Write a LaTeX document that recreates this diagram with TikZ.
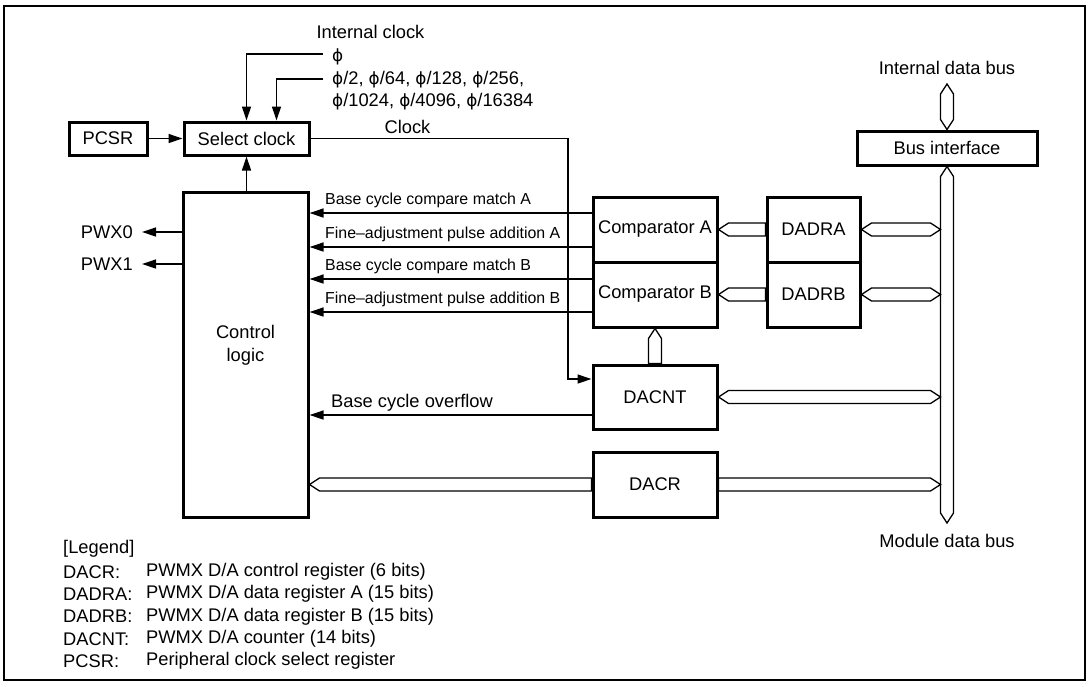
\documentclass[tikz,border=0pt]{standalone}
\usepackage{fontspec}
\setmainfont{Liberation Sans}
\newfontfamily\phifont[Scale=0.92]{DejaVu Sans}
\newcommand\ph{{\phifont ϕ}}
\usetikzlibrary{arrows.meta,calc}
\newcommand\hbusLR[2]{\draw[busline] (#1) -- ($(#1)+(10,6.5)$) -- ($(#2)+(-10,6.5)$) -- (#2) -- ($(#2)+(-10,-6.5)$) -- ($(#1)+(10,-6.5)$) -- cycle;}
\newcommand\hbusL[2]{\draw[busline] (#1) -- ($(#1)+(10,6.5)$) -- ($(#2)+(0,6.5)$) -- ($(#2)+(0,-6.5)$) -- ($(#1)+(10,-6.5)$) -- cycle;}
\newcommand\hbusR[2]{\draw[busline] (#1) -- ($(#1)+(0,6.5)$) -- ($(#2)+(-10,6.5)$) -- (#2) -- ($(#2)+(-10,-6.5)$) -- ($(#1)+(0,-6.5)$) -- cycle;}
\begin{document}
\begin{tikzpicture}[x=1pt,y=-1pt,
  box/.style={draw, line width=3pt, fill=white, inner sep=0pt, font=\fontsize{18.3}{23}\selectfont, align=center},
  arr/.style={line width=1.3pt, -{Triangle[length=14pt,width=9pt]}},
  busline/.style={line width=1.3pt, line join=miter},
  main/.style={inner sep=0pt, font=\fontsize{18.3}{23}\selectfont},
  small/.style={inner sep=0pt, font=\fontsize{15.9}{19}\selectfont}]

\useasboundingbox (0,0) rectangle (1089,686);
\draw[line width=2.6pt] (4,6) rectangle (1085,680);

% boxes
\node[box, minimum width=78pt, minimum height=33pt] (pcsr) at (108,138.5) {PCSR};
\node[box, minimum width=125pt, minimum height=33pt] (selclk) at (246.5,138.5) {Select clock};
\node[box, minimum width=125pt, minimum height=325pt] (ctrl) at (245.5,354.5) {};
\node[main, align=center] (ctrltxt) at (245.5,345) {Control\\logic};
\node[box, minimum width=124pt, minimum height=65pt] (compA) at (655,229.5) {Comparator A};
\node[box, minimum width=124pt, minimum height=65pt] (compB) at (655,294.5) {Comparator B};
\node[box, minimum width=93pt, minimum height=65pt] (dadra) at (813.5,229.5) {DADRA};
\node[box, minimum width=93pt, minimum height=65pt] (dadrb) at (813.5,294.5) {DADRB};
\node[box, minimum width=124pt, minimum height=64pt] (dacnt) at (655,397) {DACNT};
\node[box, minimum width=124pt, minimum height=65pt] (dacr) at (655,484.5) {DACR};
\node[box, minimum width=180pt, minimum height=34pt] (busif) at (947,148) {Bus interface};

% texts
\node[main] (intclk) at (370.5,32) {Internal clock};
\node[main, anchor=west] (phi) at (332,57) {\ph};
\node[main, anchor=west] (phi2) at (332,80) {\ph/2, \ph/64, \ph/128, \ph/256,};
\node[main, anchor=west] (phi3) at (332,102) {\ph/1024, \ph/4096, \ph/16384};
\node[main] (clk) at (407.5,127) {Clock};
\node[main, anchor=east] (pwx0) at (133,232) {PWX0};
\node[main, anchor=east] (pwx1) at (133,264) {PWX1};
\node[small, anchor=west] (l1) at (325,200) {Base cycle compare match A};
\node[small, anchor=west] (l2) at (325,234) {Fine–adjustment pulse addition A};
\node[small, anchor=west] (l3) at (325,266) {Base cycle compare match B};
\node[small, anchor=west] (l4) at (325,299) {Fine–adjustment pulse addition B};
\node[main, anchor=west] (l5) at (331,403) {Base cycle overflow};
\node[main] (idb) at (947,68) {Internal data bus};
\node[main] (mdb) at (947,541) {Module data bus};

% legend
\node[main, anchor=west] (lg) at (63,549) {[Legend]};
\node[main, anchor=west] (lga) at (63,572) {DACR:};
\node[main, anchor=west] (lgb) at (63,594) {DADRA:};
\node[main, anchor=west] (lgc) at (63,616.5) {DADRB:};
\node[main, anchor=west] (lgd) at (63,639) {DACNT:};
\node[main, anchor=west] (lge) at (63,661) {PCSR:};
\node[main, anchor=west] (lgA) at (146,572) {PWMX D/A control register (6 bits)};
\node[main, anchor=west] (lgB) at (146,594) {PWMX D/A data register A (15 bits)};
\node[main, anchor=west] (lgC) at (146,616.5) {PWMX D/A data register B (15 bits)};
\node[main, anchor=west] (lgD) at (146,639) {PWMX D/A counter (14 bits)};
\node[main, anchor=west] (lgE) at (146,661) {Peripheral clock select register};

% clock inputs
\coordinate (phiend) at (323,54);
\coordinate (phi2end) at (323,79);
\draw[arr] (phiend) -| (selclk.north);
\draw[arr] (phi2end) -| ([xshift=30pt]selclk.north);
\draw[arr] (pcsr) -- (selclk);
\draw[arr] (selclk.south |- ctrl.north) -- (selclk.south);

% clock to DACNT
\coordinate (clkx) at (568,0);
\draw[arr] (selclk.east) -- (clkx |- selclk.east) |- ([yshift=18pt]dacnt.west);

% PWX outputs
\draw[arr] (ctrl.west |- pwx0.east) -- ([xshift=9pt]pwx0.east);
\draw[arr] (ctrl.west |- pwx1.east) -- ([xshift=9pt]pwx1.east);

% signals to control logic
\draw[arr] ([yshift=16.5pt]compA.west) coordinate (s1) -- (s1 -| ctrl.east);
\draw[arr] ([yshift=-17.5pt]compA.west) coordinate (s2) -- (s2 -| ctrl.east);
\draw[arr] ([yshift=15.5pt]compB.west) coordinate (s3) -- (s3 -| ctrl.east);
\draw[arr] ([yshift=-17.5pt]compB.west) coordinate (s4) -- (s4 -| ctrl.east);
\draw[arr] ([yshift=-18pt]dacnt.west) coordinate (s5) -- (s5 -| ctrl.east);

% buses
\coordinate (busW) at (940.5,300);
\coordinate (mtip) at (947,523);
\draw[busline] (busif.south) -- ($(busif.south)+(6.5,10)$) -- ($(mtip)+(6.5,-10)$) -- (mtip) -- ($(mtip)+(-6.5,-10)$) -- ($(busif.south)+(-6.5,10)$) -- cycle;
\coordinate (itip) at (947,84);
\draw[busline] (itip) -- ($(itip)+(6.5,10)$) -- ($(busif.north)+(6.5,-10)$) -- (busif.north) -- ($(busif.north)+(-6.5,-10)$) -- ($(itip)+(-6.5,10)$) -- cycle;

\coordinate (ra) at (busW |- dadra.east);
\coordinate (rb) at (busW |- dadrb.east);
\coordinate (rc) at (busW |- dacnt.east);
\coordinate (rd) at (busW |- dacr.east);
\coordinate (ld) at (ctrl.east |- dacr.west);
\hbusL{compA.east}{dadra.west}
\hbusL{compB.east}{dadrb.west}
\hbusLR{dadra.east}{ra}
\hbusLR{dadrb.east}{rb}
\hbusLR{dacnt.east}{rc}
\hbusL{ld}{dacr.west}
\hbusR{dacr.east}{rd}
\draw[busline] (compB.south) -- ($(compB.south)+(6.5,10)$) -- ($(dacnt.north)+(6.5,0)$) -- ($(dacnt.north)+(-6.5,0)$) -- ($(compB.south)+(-6.5,10)$) -- cycle;
\end{tikzpicture}
\end{document}
